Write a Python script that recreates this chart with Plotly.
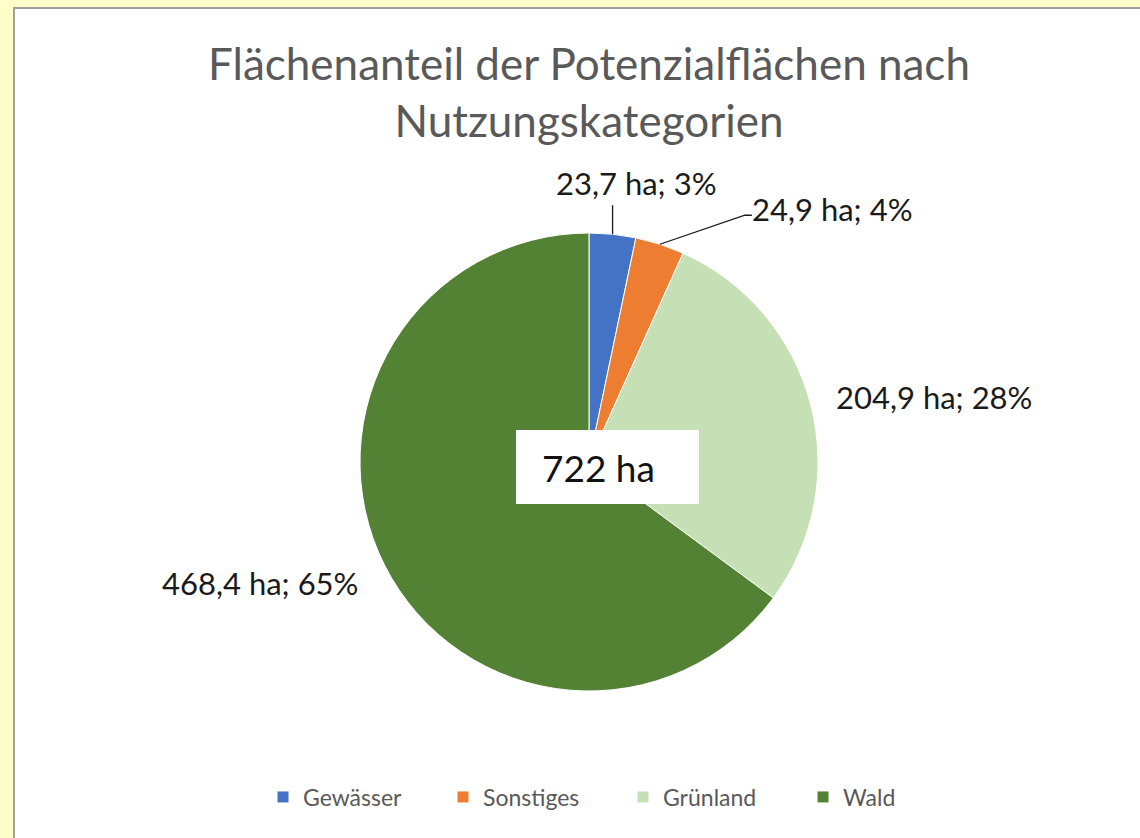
import math
import plotly.graph_objects as go

# ---- data ----
categories = ["Gewässer", "Sonstiges", "Grünland", "Wald"]
areas_ha = [23.7, 24.9, 204.9, 468.4]
pct_labels = [3, 4, 28, 65]
title_text = "Flächenanteil der Potenzialflächen nach<br>Nutzungskategorien"

# ---- styles ----
colors = ["#4472C4", "#ED7D31", "#C5E0B4", "#548235"]
FONT = "Lato, 'Open Sans', sans-serif"
PAGE_BG = "#FFFDCA"
W, H = 1140, 838
CX, CY, R = 589, 462, 229          # pie centre / radius in px


def px(x):
    return x / W


def py(y):
    return 1 - y / H


total = sum(areas_ha)
labels_txt = [f"{a:.1f}".replace(".", ",") + f" ha; {p}%" for a, p in zip(areas_ha, pct_labels)]

fig = go.Figure(go.Pie(
    labels=categories,
    values=areas_ha,
    sort=False,
    direction="clockwise",
    rotation=0,
    textinfo="none",
    hoverinfo="label+value+percent",
    marker=dict(colors=colors, line=dict(color="white", width=1)),
    domain=dict(x=[px(CX - R), px(CX + R)], y=[py(CY + R), py(CY - R)]),
))

# edge points of slice mid-angles (computed from data)
edges = []
cum = 0.0
for a in areas_ha:
    mid = (cum + a / 2) / total * 2 * math.pi
    cum += a
    edges.append((CX + R * math.sin(mid), CY - R * math.cos(mid)))

# label placement styles: (dx, dy, xanchor) relative to edge point
placements = [(23.5, -51, "center"), (173, -35, "center"), (23.5, -7, "left"), (-24.6, 17.7, "right")]

annotations = []
shapes = []

# white chart area with grey border on yellow page
shapes.append(dict(type="rect", xref="paper", yref="paper", x0=px(14), x1=px(W + 10),
                   y0=py(H + 10), y1=py(8), fillcolor="white",
                   line=dict(color="#A0A0A0", width=2), layer="below"))

for (ex, ey), (dx, dy, anc), t in zip(edges, placements, labels_txt):
    annotations.append(dict(x=px(ex + dx), y=py(ey + dy), xref="paper", yref="paper",
                            text=t, showarrow=False, xanchor=anc, yanchor="middle",
                            font=dict(family=FONT, size=31, color="#1A1A1A")))

# leader lines
gx, gy = edges[0]
shapes.append(dict(type="line", xref="paper", yref="paper", x0=px(gx), y0=py(gy),
                   x1=px(gx), y1=py(gy - 29), line=dict(color="#1A1A1A", width=1.3)))
sx, sy = edges[1]
shapes.append(dict(type="path", xref="paper", yref="paper",
                   path=f"M{px(sx)},{py(sy)} L{px(sx + 85)},{py(sy - 29)} L{px(sx + 92)},{py(sy - 29)}",
                   line=dict(color="#1A1A1A", width=1.3)))

# centre total box
shapes.append(dict(type="rect", xref="paper", yref="paper", x0=px(516), x1=px(699),
                   y0=py(504), y1=py(430), fillcolor="white", line=dict(width=0)))
annotations.append(dict(x=px(540), y=py(467), xref="paper", yref="paper",
                        text=f"{round(total)} ha", showarrow=False, xanchor="left", yanchor="middle",
                        font=dict(family=FONT, size=37, color="#111111")))

fig.update_layout(
    width=W, height=H,
    margin=dict(l=0, r=0, t=0, b=0),
    paper_bgcolor=PAGE_BG,
    title=dict(text=title_text, x=px(589), xanchor="center", y=py(80), yanchor="top",
               font=dict(family=FONT, size=44, color="#595959")),
    legend=dict(orientation="h", x=px(623), xanchor="center", y=py(797), yanchor="middle",
                font=dict(family=FONT, size=23, color="#595959"),
                entrywidth=135, entrywidthmode="pixels", bgcolor="rgba(0,0,0,0)"),
    shapes=shapes,
    annotations=annotations,
)

fig.write_html(
    "out.html",
    config={"displayModeBar": False},
    post_script=f"document.body.style.margin='0';document.body.style.background='{PAGE_BG}';",
)
